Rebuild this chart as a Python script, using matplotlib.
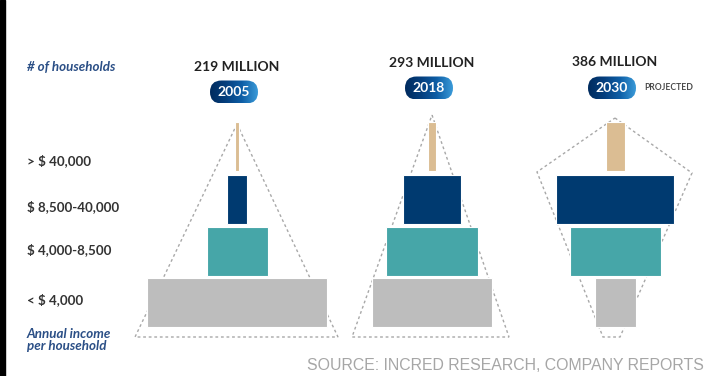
import numpy as np
import matplotlib.pyplot as plt
from matplotlib.patches import FancyBboxPatch, Rectangle, Polygon
from matplotlib.colors import LinearSegmentedColormap

# data
years = ['2005', '2018', '2030']
totals = ['219 MILLION', '293 MILLION', '386 MILLION']
brackets = ['< $ 4,000', '$ 4,000-8,500', '$ 8,500-40,000', '> $ 40,000']
# relative bar widths per bracket (bottom to top)
width_2005 = [180, 61, 20, 4]
width_2018 = [120, 92, 58, 8]
width_2030 = [41, 91, 118, 19]
widths = [width_2005, width_2018, width_2030]

colors = ['#bdbdbd', '#46a6a8', '#003a70', '#dbbd93']

plt.rcParams['font.family'] = ['Lato', 'DejaVu Sans']

fig = plt.figure(figsize=(7.08, 3.76), dpi=100)
ax = fig.add_axes([0, 0, 1, 1])
ax.set_xlim(0, 708)
ax.set_ylim(376, 0)
ax.axis('off')

# dark strip on the left edge
fig.patches.append(Rectangle((0, 0), 5 / 708, 1, transform=fig.transFigure,
                             color='black', zorder=0))

col_x = [237, 432, 615]
row_y = [302.5, 251, 199, 146]
row_h = 49

# dotted outlines, offsets from column centre
outlines = [
    [(0, 124), (101, 337), (-102, 337)],
    [(0, 115), (77, 337), (-80, 337)],
    [(0, 118), (77, 173), (5, 337), (-12, 337), (-78, 172)],
]
for cx, pts in zip(col_x, outlines):
    poly = Polygon([(cx + dx, y) for dx, y in pts], closed=True, fill=False,
                   edgecolor='#a8a8a8', linestyle=(0, (2, 2)), lw=1, zorder=1)
    ax.add_patch(poly)

for cx, w in zip(col_x, widths):
    w = np.array(w)
    ax.barh(row_y, w, left=cx - w / 2, height=row_h, color=colors,
            edgecolor='white', linewidth=0.8, zorder=2)

# totals and year pills
title_y = [67, 63, 62]
pill_y = [92, 88, 88]
cmap = LinearSegmentedColormap.from_list('pill', ['#002b5e', '#053f7e', '#0e5ea6', '#3a9ad8'])
grad = np.linspace(0, 1, 100).reshape(1, -1)
for cx, ty, py, yr, tot in zip(col_x, title_y, pill_y, years, totals):
    ax.text(cx, ty, tot, ha='center', va='center', fontsize=10,
            fontweight='bold', color='#222222')
    pw, ph = 48, 23
    pill = FancyBboxPatch((cx - 3 - pw / 2, py - ph / 2), pw, ph,
                          boxstyle='round,pad=0,rounding_size=11.5',
                          linewidth=0, facecolor='none', zorder=3)
    ax.add_patch(pill)
    im = ax.imshow(grad, cmap=cmap, aspect='auto', zorder=3,
                   extent=[cx - 3 - pw / 2, cx - 3 + pw / 2, py + ph / 2, py - ph / 2])
    im.set_clip_path(pill)
    ax.text(cx - 3, py + 0.5, yr, ha='center', va='center', fontsize=10,
            fontweight='bold', color='white', zorder=4)
ax.text(644, 88, 'PROJECTED', ha='left', va='center', fontsize=6.2,
        fontweight='bold', color='#4a4a4a')

# left labels
ax.text(27, 67, '# of households', ha='left', va='center', fontsize=9.6,
        style='italic', fontweight='bold', color='#2b4f86')
label_y = [300, 250, 207, 161]
for ly, lab in zip(label_y, brackets):
    ax.text(27, ly, lab, ha='left', va='center', fontsize=9.6,
            fontweight='bold', color='#333333')
ax.text(27, 340, 'Annual income\nper household', ha='left', va='center',
        fontsize=9.6, style='italic', fontweight='bold', color='#2b4f86',
        linespacing=1.0)

ax.text(307, 366, 'SOURCE: INCRED RESEARCH, COMPANY REPORTS', ha='left',
        va='center', fontsize=11.4, color='#a6a6a6', family='Liberation Sans')

fig.savefig('out.png', dpi=100)
